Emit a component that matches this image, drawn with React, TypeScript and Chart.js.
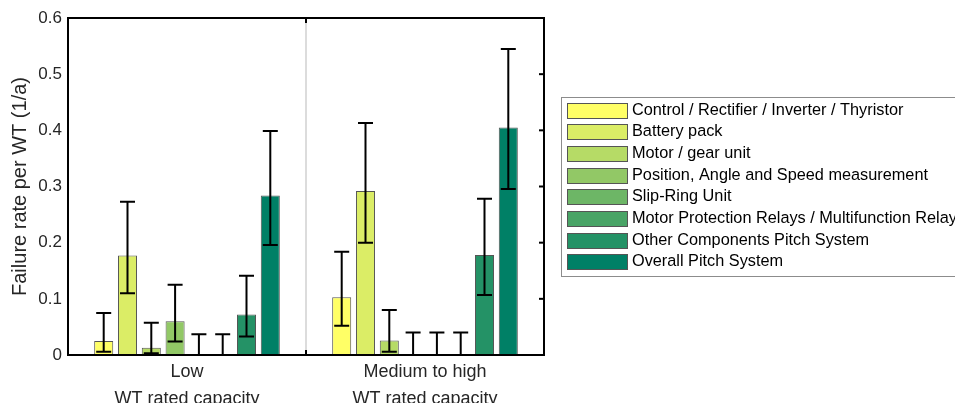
import React, { useEffect, useRef } from "react";
import { Chart, registerables } from "chart.js";

Chart.register(...registerables);

const categories: string[][] = [
  ["Low", "WT rated capacity"],
  ["Medium to high", "WT rated capacity"],
];

const seriesLabels: string[] = [
  "Control / Rectifier / Inverter / Thyristor",
  "Battery pack",
  "Motor / gear unit",
  "Position, Angle and Speed measurement",
  "Slip-Ring Unit",
  "Motor Protection Relays / Multifunction Relay",
  "Other Components Pitch System",
  "Overall Pitch System",
];

const seriesColors: string[] = [
  "#FFFF66",
  "#DBED66",
  "#B6DB66",
  "#92C866",
  "#6DB666",
  "#49A466",
  "#249266",
  "#008066",
];

// values per series: [Low, Medium to high]
const controlValues = [0.025, 0.103];
const batteryValues = [0.177, 0.292];
const motorValues = [0.013, 0.026];
const positionValues = [0.06, 0];
const slipRingValues = [0, 0];
const relayValues = [0, 0];
const otherValues = [0.072, 0.178];
const overallValues = [0.284, 0.405];

const controlLower = [0.006, 0.052];
const controlUpper = [0.075, 0.184];
const batteryLower = [0.11, 0.2];
const batteryUpper = [0.273, 0.413];
const motorLower = [0.003, 0.006];
const motorUpper = [0.0575, 0.08];
const positionLower = [0.024, 0];
const positionUpper = [0.125, 0.04];
const slipRingLower = [0, 0];
const slipRingUpper = [0.037, 0.04];
const relayLower = [0, 0];
const relayUpper = [0.037, 0.04];
const otherLower = [0.033, 0.107];
const otherUpper = [0.141, 0.278];
const overallLower = [0.196, 0.2955];
const overallUpper = [0.399, 0.545];

const yTicks = [0, 0.1, 0.2, 0.3, 0.4, 0.5, 0.6];

const allValues = [controlValues, batteryValues, motorValues, positionValues, slipRingValues, relayValues, otherValues, overallValues];
const allLower = [controlLower, batteryLower, motorLower, positionLower, slipRingLower, relayLower, otherLower, overallLower];
const allUpper = [controlUpper, batteryUpper, motorUpper, positionUpper, slipRingUpper, relayUpper, otherUpper, overallUpper];

const FONT = "'Liberation Sans', Arial, sans-serif";
const TEXT = "#262626";

const framePlugin = {
  id: "frameAndExtras",
  afterDatasetsDraw(chart: any) {
    const ctx = chart.ctx;
    const { left, right, top, bottom } = chart.chartArea;
    const y = chart.scales.y;
    const x = chart.scales.x;
    ctx.save();
    // separator between categories
    const sepX = (x.getPixelForValue(0) + x.getPixelForValue(1)) / 2;
    ctx.strokeStyle = "#dcdcdc";
    ctx.lineWidth = 2;
    ctx.beginPath();
    ctx.moveTo(sepX, top);
    ctx.lineTo(sepX, bottom);
    ctx.stroke();
    // error bars
    ctx.strokeStyle = "#000";
    ctx.lineWidth = 2;
    chart.data.datasets.forEach((ds: any, di: number) => {
      const meta = chart.getDatasetMeta(di);
      meta.data.forEach((bar: any, i: number) => {
        const lo = y.getPixelForValue(allLower[di][i]);
        const hi = y.getPixelForValue(allUpper[di][i]);
        const cx = bar.x;
        const cap = 7.5;
        ctx.beginPath();
        ctx.moveTo(cx, lo);
        ctx.lineTo(cx, hi);
        ctx.moveTo(cx - cap, hi);
        ctx.lineTo(cx + cap, hi);
        if (allLower[di][i] > 0) {
          ctx.moveTo(cx - cap, lo);
          ctx.lineTo(cx + cap, lo);
        }
        ctx.stroke();
      });
    });
    // frame
    ctx.strokeStyle = "#000";
    ctx.lineWidth = 2;
    ctx.strokeRect(left, top, right - left, bottom - top);
    // inward ticks on right axis
    yTicks.forEach((t) => {
      const py = y.getPixelForValue(t);
      ctx.beginPath();
      ctx.moveTo(right, py);
      ctx.lineTo(right - 5, py);
      ctx.stroke();
    });
    // ticks at category boundary
    ctx.beginPath();
    ctx.moveTo(sepX, top);
    ctx.lineTo(sepX, top + 5);
    ctx.moveTo(sepX, bottom);
    ctx.lineTo(sepX, bottom - 5);
    ctx.stroke();

    // legend
    const lx = right + 17;
    const ly = top + 79;
    ctx.fillStyle = "#fff";
    ctx.fillRect(lx, ly, 500, 179);
    ctx.strokeStyle = "#8c8c8c";
    ctx.lineWidth = 1;
    ctx.strokeRect(lx + 0.5, ly + 0.5, 500, 179);
    ctx.font = `16.3px ${FONT}`;
    ctx.textBaseline = "middle";
    ctx.textAlign = "left";
    chart.data.datasets.forEach((ds: any, di: number) => {
      const sy = ly + 5.5 + di * 21.7;
      ctx.fillStyle = ds.backgroundColor;
      ctx.fillRect(lx + 6, Math.round(sy), 60, 15);
      ctx.strokeStyle = "#555";
      ctx.strokeRect(lx + 6.5, Math.round(sy) + 0.5, 60, 15);
      ctx.fillStyle = "#000";
      ctx.fillText(ds.label, lx + 71, Math.round(sy) + 8);
    });
    ctx.restore();
  },
};

export default function App() {
  const ref = useRef<HTMLCanvasElement>(null);
  useEffect(() => {
    if (!ref.current) return;
    const chart = new Chart(ref.current, {
      type: "bar",
      data: {
        labels: categories,
        datasets: seriesLabels.map((label, i) => ({
          label,
          data: allValues[i],
          backgroundColor: seriesColors[i],
          borderColor: "#555",
          borderWidth: 1,
          categoryPercentage: 0.8,
          barPercentage: 0.8,
        })),
      },
      options: {
        animation: false,
        responsive: true,
        maintainAspectRatio: false,
        layout: { padding: { top: 18, right: 411, left: 0, bottom: 0 } },
        plugins: { legend: { display: false }, tooltip: { enabled: false } },
        scales: {
          x: {
            grid: { display: false, drawTicks: false },
            border: { display: false },
            ticks: {
              color: TEXT,
              font: { family: FONT, size: 18, lineHeight: 1.48 },
              padding: 4,
              maxRotation: 0,
            },
            afterFit: (s: any) => {
              s.height = 48;
            },
          },
          y: {
            min: 0,
            max: 0.6,
            grid: { display: false, drawTicks: false },
            border: { display: false },
            afterBuildTicks: (s: any) => {
              s.ticks = yTicks.map((v) => ({ value: v }));
            },
            ticks: {
              color: TEXT,
              font: { family: FONT, size: 17 },
              padding: 6,
              callback: (v: any) => (v === 0 ? "0" : Number(v).toFixed(1)),
            },
            title: {
              display: true,
              text: "Failure rate per WT (1/a)",
              color: TEXT,
              font: { family: FONT, size: 20 },
              padding: { top: 8, bottom: 0 },
            },
            afterFit: (s: any) => {
              s.width = 68;
            },
          },
        },
      },
      plugins: [framePlugin],
    });
    return () => chart.destroy();
  }, []);
  return (
    <div style={{ position: "fixed", left: 0, top: 0, width: 955, height: 403, background: "#fff" }}>
      <canvas ref={ref} />
    </div>
  );
}
